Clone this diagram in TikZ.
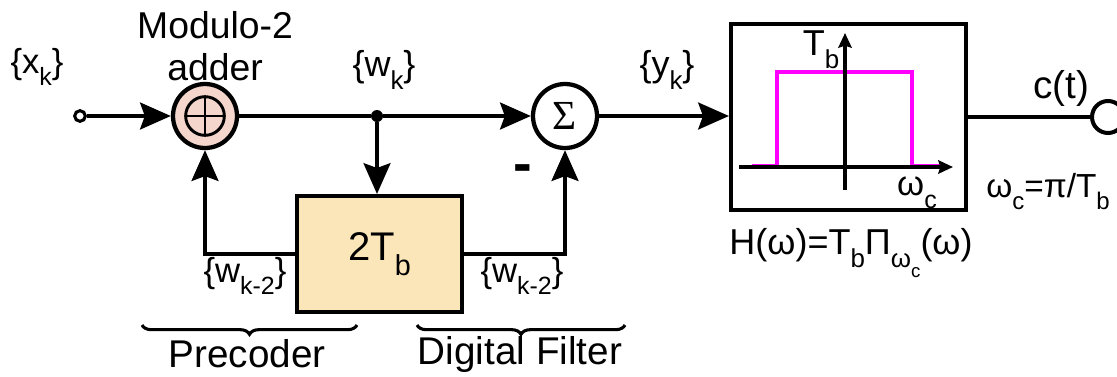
\documentclass[tikz,border=0pt]{standalone}
\usepackage{fontspec}
\usepackage{graphicx}
\setmainfont{Liberation Sans}
\newfontfamily\serifgreek{Liberation Serif}
\usetikzlibrary{arrows.meta,decorations.pathreplacing,calc}
\newcommand{\sbs}[1]{\raisebox{-0.36em}{\scalebox{0.72}{#1}}}
\definecolor{adderpink}{RGB}{245,214,204}
\definecolor{delayfill}{RGB}{250,230,185}
\definecolor{mag}{RGB}{255,0,255}
\tikzset{
  lbl/.style={inner sep=0pt, font=\fontsize{26}{30}\selectfont},
  wire/.style={line width=3.3pt},
  arr/.style={wire, -{Stealth[length=23pt,width=20pt,inset=3.5pt]}},
  smallarr/.style={line width=2.3pt, -{Stealth[length=11pt,width=10pt,inset=1.5pt]}},
  sumcirc/.style={circle, draw, line width=3.2pt, minimum size=48pt, inner sep=0pt},
  boxstyle/.style={draw, line width=3pt, inner sep=0pt},
  bracestyle/.style={line width=2.3pt, decorate, decoration={brace, mirror, amplitude=7pt}}
}
\begin{document}
\begin{tikzpicture}[x=0.75pt,y=-0.75pt]
\useasboundingbox (0,0) rectangle (1117,376);

% nodes
\node[circle, draw, line width=2.3pt, fill=white, minimum size=8pt, inner sep=0pt] (in) at (80,116) {};
\node[sumcirc, fill=adderpink] (add) at (205,116) {};
\draw[line width=2.2pt] (add.center) circle[radius=14.5pt];
\draw[line width=1.6pt] ($(add.center)+(-19,0)$) -- ($(add.center)+(19,0)$);
\draw[line width=1.6pt] ($(add.center)+(0,-19)$) -- ($(add.center)+(0,19)$);
\node[circle, fill=black, minimum size=9pt, inner sep=0pt] (j) at (377,116) {};
\node[sumcirc, fill=white, font=\serifgreek\fontsize{31}{34}\selectfont] (sig) at (565,116) {Σ};
\node[boxstyle, fill=delayfill, minimum width=123.75pt, minimum height=87pt, font=\fontsize{30}{34}\selectfont] (delay) at (379.5,254) {2T\sbs{b}};
\node[boxstyle, minimum width=176.25pt, minimum height=139.5pt] (filt) at (848.5,117) {};
\node[circle, draw, line width=3pt, fill=white, minimum size=24pt, inner sep=0pt] (out) at (1108,117) {};

% connectors
\draw[arr] (in) -- (add);
\draw[wire] (add) -- (j);
\draw[arr] (j) -- (sig);
\draw[arr] (j) -- (j |- delay.north);
\draw[arr] (delay.west) -| (add.south);
\draw[arr] (delay.east) -| (sig.south);
\draw[arr] (sig.east) -- (sig.east -| filt.west);
\draw[wire] (filt.east) -- (out);

% filter plot
\coordinate (xa0) at (739,167);
\coordinate (xa1) at (953,167);
\coordinate (ya0) at (845,190);
\coordinate (ya1) at (845,33);
\draw[mag, line width=3pt] (752,166) -- (777,166) -- (777,72) -- (912,72) -- (912,166) -- (940,166);
\draw[smallarr] (xa0) -- (xa1);
\draw[smallarr] (ya0) -- (ya1);
\node[lbl, font=\fontsize{27}{30}\selectfont] (tb) at (821,50) {T\sbs{b}};
\node[lbl] (wc) at (917,193) {ω\sbs{c}};

% labels
\node[lbl] (xk) at (37,67) {\{x\sbs{k}\}};
\node[lbl, font=\fontsize{28}{32}\selectfont] (mod) at (215,25) {Modulo-2};
\node[lbl, font=\fontsize{28}{32}\selectfont] (adl) at (215,67) {adder};
\node[lbl, font=\fontsize{27}{30}\selectfont] (wk) at (384,70) {\{w\sbs{k}\}};
\node[lbl, font=\fontsize{27}{30}\selectfont] (yk) at (667,70) {\{y\sbs{k}\}};
\node[inner sep=0pt, font=\fontsize{42}{42}\bfseries\selectfont] (minus) at (523,174) {-};
\node[lbl] (wk2l) at (245,276) {\{w\sbs{k-2}\}};
\node[lbl] (wk2r) at (522,276) {\{w\sbs{k-2}\}};
\node[lbl, font=\fontsize{29}{32}\selectfont] (ct) at (1061,88) {c(t)};
\node[lbl, font=\fontsize{25}{28}\selectfont] (wcdef) at (1048,192) {ω\sbs{c}=π/T\sbs{b}};
\node[lbl, font=\fontsize{27}{30}\selectfont] (hw) at (851,253) {H(ω)=T\sbs{b}Π\sbs{ω\sbs{c}}(ω)};

% braces
\coordinate (pb0) at (142,325);
\coordinate (pb1) at (357,325);
\coordinate (db0) at (417,325);
\coordinate (db1) at (625,325);
\draw[bracestyle] (pb0) -- (pb1);
\draw[bracestyle] (db0) -- (db1);
\node[lbl, font=\fontsize{29}{32}\selectfont] (pre) at (247,354) {Precoder};
\node[lbl, font=\fontsize{29}{32}\selectfont] (df) at (520,354) {Digital Filter};
\end{tikzpicture}
\end{document}
